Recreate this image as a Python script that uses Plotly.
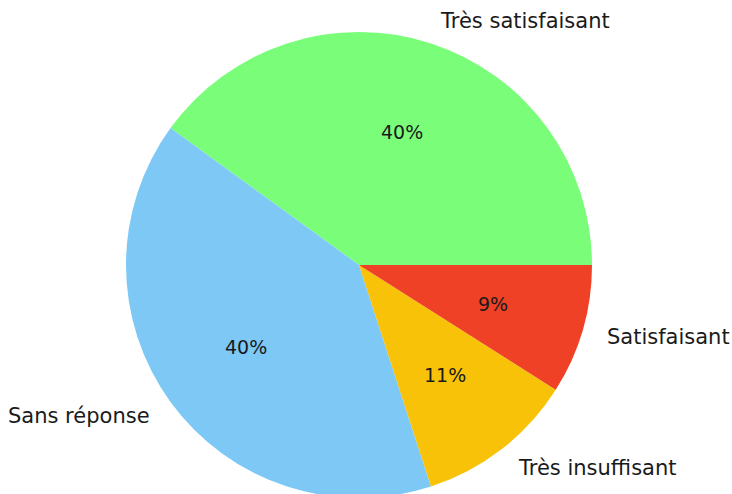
import math
import plotly.graph_objects as go

labels = ["Très satisfaisant", "Sans réponse", "Très insuffisant", "Satisfaisant"]
values = [40, 40, 11, 9]
colors = ["#7AFE7A", "#7EC8F6", "#F8C209", "#EE4126"]

W, H = 748, 510  # figure a little larger than the 732x494 viewport
cx, cy, r = 359, 265, 233  # target pie geometry in the viewport (pixels)


def px_x(x):
    return x / W


def px_y(y):
    return 1 - y / H


total = sum(values)
fig = go.Figure(go.Pie(
    labels=labels, values=values, sort=False, direction="counterclockwise",
    rotation=90 - 360.0 * values[0] / total, textinfo="none", hoverinfo="label+percent",
    marker=dict(colors=colors, line=dict(width=0)),
    domain=dict(x=[px_x(cx - r), px_x(cx + r)], y=[px_y(cy + r), px_y(cy - r)]),
    showlegend=False,
))

annotations = []
start = 0.0
label_font = dict(family="DejaVu Sans", size=21, color="#1a1a1a")
pct_font = dict(family="DejaVu Sans", size=19, color="#1a1a1a")
for lab, v in zip(labels, values):
    ang = start + 360.0 * v / total / 2
    start += 360.0 * v / total
    a = math.radians(ang)
    ca, sa = math.cos(a), math.sin(a)
    lx = cx + 1.1 * r * ca
    ly = cy - 1.1 * r * sa
    annotations.append(dict(
        x=px_x(lx), y=px_y(ly), xref="paper", yref="paper", text=lab, showarrow=False,
        xanchor="left" if ca > 0 else "right", yanchor="middle", font=label_font))
    qx = cx + 0.6 * r * ca
    qy = cy - 0.6 * r * sa
    annotations.append(dict(
        x=px_x(qx), y=px_y(qy), xref="paper", yref="paper",
        text=f"{round(100 * v / total)}%", showarrow=False,
        xanchor="center", yanchor="middle", font=pct_font))

fig.update_layout(
    width=W, height=H, margin=dict(l=0, r=0, t=0, b=0),
    paper_bgcolor="white", plot_bgcolor="white", annotations=annotations,
)
fig.write_html(
    "out.html",
    config={"displayModeBar": False},
    post_script=(
        "document.documentElement.style.overflow='hidden';"
        "document.body.style.overflow='hidden';"
        "document.body.style.margin='0';"
    ),
)
